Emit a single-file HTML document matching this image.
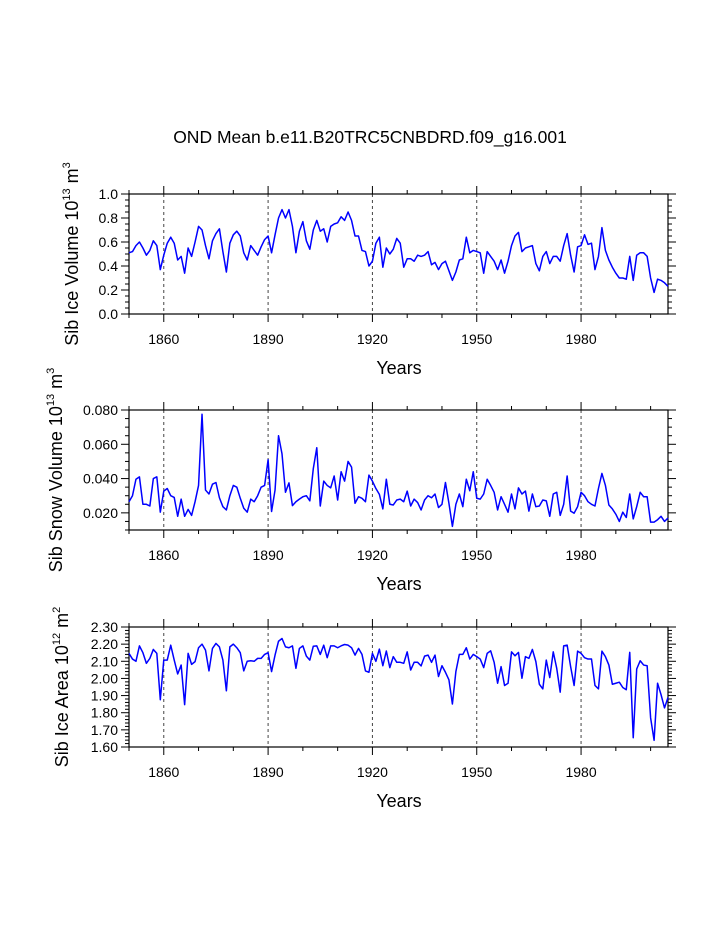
<!DOCTYPE html>
<html><head><meta charset="utf-8"><style>
html,body{margin:0;padding:0;background:#fff;}
svg{display:block;font-family:"Liberation Sans",Arial,sans-serif;}
</style></head><body>
<svg id="chart" width="723" height="935" viewBox="0 0 723 935" xmlns="http://www.w3.org/2000/svg">
<rect width="723" height="935" fill="#fff"/>
<text x="370" y="143" font-size="17.5" text-anchor="middle">OND Mean b.e11.B20TRC5CNBDRD.f09_g16.001</text>
</svg>
<script>
const startYear = 1850;
const endYear = 2005;
const xTickLabels = [1860, 1890, 1920, 1950, 1980];

const iceVolume = [0.51,0.52,0.57,0.60,0.55,0.49,0.53,0.61,0.57,0.37,0.49,0.59,0.64,0.59,0.45,0.48,0.34,0.55,0.48,0.60,
0.73,0.70,0.57,0.46,0.61,0.67,0.71,0.52,0.35,0.59,0.66,0.69,0.65,0.51,0.45,0.57,0.53,0.49,0.56,0.62,
0.65,0.51,0.66,0.80,0.87,0.80,0.87,0.73,0.51,0.69,0.77,0.61,0.54,0.70,0.78,0.69,0.71,0.60,0.73,0.75,
0.76,0.81,0.78,0.85,0.78,0.65,0.65,0.53,0.52,0.40,0.44,0.59,0.64,0.39,0.55,0.50,0.54,0.63,0.59,0.39,
0.46,0.46,0.44,0.49,0.48,0.49,0.52,0.41,0.43,0.37,0.42,0.44,0.36,0.28,0.35,0.45,0.46,0.64,0.51,0.53,
0.52,0.51,0.34,0.52,0.48,0.44,0.37,0.45,0.34,0.44,0.57,0.65,0.68,0.52,0.55,0.56,0.57,0.42,0.36,0.48,
0.52,0.42,0.48,0.48,0.44,0.57,0.67,0.49,0.35,0.56,0.57,0.66,0.58,0.59,0.37,0.48,0.72,0.53,0.45,0.39,
0.34,0.30,0.30,0.29,0.48,0.28,0.49,0.51,0.51,0.48,0.30,0.18,0.29,0.28,0.26,0.23];
const iceVolumeTicks = [0.0,0.2,0.4,0.6,0.8,1.0];

const snowVolume = [0.0265,0.030,0.0396,0.041,0.025,0.025,0.024,0.040,0.041,0.0204,0.0327,0.0342,0.030,0.029,0.018,0.028,0.018,0.022,0.0185,0.0265,
0.036,0.0775,0.0333,0.031,0.0367,0.0377,0.0288,0.0236,0.0217,0.030,0.036,0.035,0.0285,0.0227,0.0204,0.028,0.0265,0.030,0.035,0.036,
0.051,0.0208,0.0333,0.065,0.0544,0.032,0.0375,0.0242,0.0265,0.028,0.0294,0.030,0.027,0.0458,0.058,0.024,0.0385,0.036,0.0346,0.0415,
0.0275,0.044,0.0385,0.050,0.0467,0.0256,0.0294,0.0285,0.0265,0.042,0.0385,0.0342,0.0308,0.0223,0.0396,0.025,0.0246,0.0275,0.028,0.0265,
0.0327,0.024,0.028,0.026,0.0217,0.0275,0.030,0.0288,0.031,0.0231,0.025,0.0377,0.0256,0.0121,0.025,0.031,0.0236,0.0396,0.0329,0.044,
0.0285,0.028,0.031,0.0396,0.036,0.032,0.0217,0.0294,0.025,0.0204,0.031,0.0223,0.0346,0.031,0.0327,0.021,0.031,0.0236,0.024,0.0275,
0.027,0.018,0.031,0.032,0.0185,0.025,0.0415,0.021,0.0198,0.0236,0.032,0.030,0.0265,0.025,0.024,0.0342,0.043,0.036,0.0246,0.0223,
0.0192,0.015,0.0204,0.0173,0.031,0.0165,0.0236,0.032,0.0294,0.0294,0.0146,0.0146,0.016,0.018,0.015,0.017];
const snowVolumeTicks = [0.020,0.040,0.060,0.080];

const iceArea = [2.146,2.113,2.10,2.19,2.15,2.088,2.117,2.169,2.146,1.876,2.107,2.107,2.194,2.107,2.026,2.078,1.847,2.146,2.082,2.098,
2.179,2.20,2.165,2.044,2.175,2.204,2.184,2.107,1.928,2.184,2.20,2.179,2.15,2.044,2.10,2.103,2.10,2.117,2.117,2.14,
2.15,2.04,2.136,2.217,2.233,2.184,2.179,2.19,2.059,2.175,2.19,2.13,2.107,2.188,2.19,2.14,2.194,2.121,2.19,2.19,
2.179,2.19,2.198,2.194,2.179,2.136,2.175,2.14,2.044,2.036,2.146,2.10,2.171,2.074,2.16,2.063,2.127,2.094,2.094,2.088,
2.155,2.049,2.094,2.094,2.073,2.130,2.136,2.094,2.136,2.011,2.074,2.036,1.992,1.851,2.040,2.140,2.140,2.179,2.113,2.140,
2.127,2.113,2.063,2.146,2.161,2.094,1.972,2.069,1.959,1.972,2.155,2.132,2.152,2.001,2.127,2.117,2.169,2.098,1.966,1.939,
2.107,2.005,2.155,2.059,1.920,2.190,2.194,2.069,1.959,2.159,2.146,2.121,2.113,2.113,1.959,1.939,2.159,2.127,2.078,1.966,
1.972,1.978,1.947,1.934,2.152,1.654,2.055,2.103,2.078,2.074,1.770,1.639,1.972,1.905,1.828,1.889];
const iceAreaTicks = [1.60,1.70,1.80,1.90,2.00,2.10,2.20,2.30];

const NS = "http://www.w3.org/2000/svg";
const svg = document.getElementById("chart");
const X0 = 129, X1 = 668;
function xScale(yr){ return X0 + (yr - startYear) / (endYear - startYear) * (X1 - X0); }
function mk(tag, attrs, parent){ const e = document.createElementNS(NS, tag); for (const k in attrs) e.setAttribute(k, attrs[k]); (parent||svg).appendChild(e); return e; }

function panel(cfg){
  const g = mk("g", {});
  
  
  const yScale = v => cfg.y1 - (v - cfg.min) / (cfg.max - cfg.min) * (cfg.y1 - cfg.y0);
  // grid lines
  xTickLabels.forEach(t => {
    const l = mk("line", {x1:xScale(t), x2:xScale(t), y1:cfg.y0, y2:cfg.y1, stroke:"#444", "stroke-width":1, "stroke-dasharray":"3,3"}, g);
    
    
  });
  // x ticks
  for (let yr = 1850; yr <= 2005; yr += 10) {
    const major = xTickLabels.includes(yr);
    const len = major ? 8 : 4;
    const x = xScale(yr);
    mk("line", {x1:x, x2:x, y1:cfg.y1, y2:cfg.y1 + len, stroke:"#000", "stroke-width":1}, g);
    mk("line", {x1:x, x2:x, y1:cfg.y0, y2:cfg.y0 - len, stroke:"#000", "stroke-width":1}, g);
  }
  xTickLabels.forEach(t => {
    const tx = mk("text", {x:xScale(t), y:cfg.y1 + 30, "font-size":14, "text-anchor":"middle"}, g);
    tx.textContent = t;
    
    
  });
  // y ticks
  const step = cfg.minor;
  for (let v = cfg.min; v <= cfg.max + 1e-9; v += step) {
    const isMajor = cfg.ticks.some(t => Math.abs(t - v) < 1e-9);
    const len = isMajor ? 8 : 4;
    const y = yScale(v);
    mk("line", {x1:X0, x2:X0 - len, y1:y, y2:y, stroke:"#000", "stroke-width":1}, g);
    mk("line", {x1:X1, x2:X1 + len, y1:y, y2:y, stroke:"#000", "stroke-width":1}, g);
  }
  cfg.ticks.forEach(t => {
    const tx = mk("text", {x:X0 - 11, y:yScale(t) + 5, "font-size":14, "text-anchor":"end"}, g);
    tx.textContent = t.toFixed(cfg.dec);
    
    
  });
  // frame
  const fr = mk("rect", {x:X0, y:cfg.y0, width:X1 - X0, height:cfg.y1 - cfg.y0, fill:"none", stroke:"#000", "stroke-width":1.2}, g);
  
  
  // series
  const pts = cfg.data.map((v, i) => xScale(startYear + i).toFixed(2) + "," + yScale(v).toFixed(2)).join(" ");
  const pl = mk("polyline", {points:pts, fill:"none", stroke:"#0000ff", "stroke-width":1.5, "stroke-linejoin":"round"}, g);
  
  
  // x title
  const xt = mk("text", {x:399, y:cfg.y1 + 60, "font-size":18, "text-anchor":"middle"}, g);
  xt.textContent = "Years";
  
  
  // y title
  const cy = (cfg.y0 + cfg.y1) / 2;
  const yt = mk("text", {x:0, y:0, "font-size":18, "text-anchor":"middle", transform:"translate(" + cfg.tx + "," + cy + ") rotate(-90)"}, g);
  
  
  const a = mk("tspan", {}, yt); a.textContent = cfg.label + " 10";
  const b = mk("tspan", {"font-size":11, dy:-8}, yt); b.textContent = cfg.exp;
  const c = mk("tspan", {dy:8}, yt); c.textContent = " m";
  const d = mk("tspan", {"font-size":11, dy:-8}, yt); d.textContent = cfg.unitExp;
}

panel({name:"ice-volume-panel", data:iceVolume, ticks:iceVolumeTicks, min:0, max:1.0, minor:0.05, dec:1, y0:194, y1:314, tx:78, label:"Sib Ice Volume", exp:"13", unitExp:"3"});
panel({name:"snow-volume-panel", data:snowVolume, ticks:snowVolumeTicks, min:0.010, max:0.080, minor:0.005, dec:3, y0:410, y1:530, tx:62, label:"Sib Snow Volume", exp:"13", unitExp:"3"});
panel({name:"ice-area-panel", data:iceArea, ticks:iceAreaTicks, min:1.60, max:2.30, minor:0.02, dec:2, y0:627, y1:747, tx:68, label:"Sib Ice Area", exp:"12", unitExp:"2"});
</script>
</body></html>
